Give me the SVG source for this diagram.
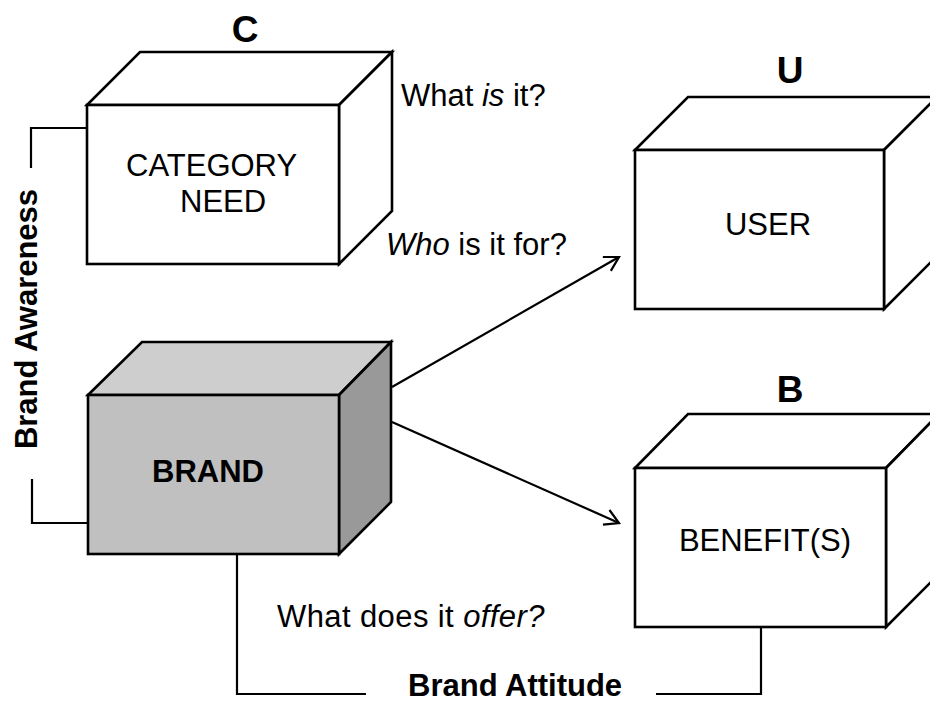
<svg xmlns="http://www.w3.org/2000/svg" width="930" height="704" viewBox="0 0 930 704">
<defs>
<style>
.edge{stroke:#000;stroke-width:2.6;stroke-linejoin:miter}
.w{fill:#fff}
.t{font-family:"Liberation Sans",Arial,sans-serif;font-size:31px;fill:#000}
.b{font-weight:bold}
.i{font-style:italic}
.ln{fill:none;stroke:#000;stroke-width:2.2}
</style>
<marker id="ah" viewBox="0 0 20 20" refX="18" refY="10" markerWidth="20" markerHeight="20" markerUnits="userSpaceOnUse" orient="auto">
<path d="M4,2 L18,10 L4,18" fill="none" stroke="#000" stroke-width="2.2"/>
</marker>
</defs>
<rect width="930" height="704" fill="#fff"/>

<g id="connectors">
<path class="ln" d="M87,128 H31 V168"/>
<path class="ln" d="M32,479 V523 H88"/>
<path class="ln" d="M237,554 V694 H366"/>
<path class="ln" d="M656,694 H761 V627"/>
<line class="ln" x1="392" y1="387" x2="619" y2="257" marker-end="url(#ah)"/>
<line class="ln" x1="392" y1="422" x2="619" y2="523" marker-end="url(#ah)"/>
</g>

<g id="category">
<polygon class="edge w" points="87,105 140,52 392,52 339,105"/>
<polygon class="edge w" points="339,105 392,52 392,211 339,264"/>
<rect class="edge w" x="87" y="105" width="252" height="159"/>
<text class="t b" x="245" y="42" text-anchor="middle" style="font-size:37px">C</text>
<text class="t" x="126" y="176">CATEGORY</text>
<text class="t" x="180" y="212">NEED</text>
</g>

<g id="brand">
<polygon class="edge" fill="#cecece" points="88,395 142,342 391,342 339,395"/>
<polygon class="edge" fill="#999999" points="339,395 391,342 391,502 339,554"/>
<rect class="edge" fill="#c0c0c0" x="88" y="395" width="251" height="159"/>
<text class="t b" x="208" y="482" text-anchor="middle">BRAND</text>
</g>

<g id="user">
<polygon class="edge w" points="635,150 688,97 937,97 884,150"/>
<polygon class="edge w" points="884,150 937,97 937,256 884,309"/>
<rect class="edge w" x="635" y="150" width="249" height="159"/>
<text class="t b" x="790" y="83" text-anchor="middle" style="font-size:37px">U</text>
<text class="t" x="768" y="235" text-anchor="middle">USER</text>
</g>

<g id="benefit">
<polygon class="edge w" points="635,468 688,414 939,414 886,468"/>
<polygon class="edge w" points="886,468 939,414 939,574 886,627"/>
<rect class="edge w" x="635" y="468" width="251" height="159"/>
<text class="t b" x="790" y="402" text-anchor="middle" style="font-size:37px">B</text>
<text class="t" x="765" y="551" text-anchor="middle">BENEFIT(S)</text>
</g>

<g id="labels">
<text class="t" x="401" y="106">What <tspan class="i">is</tspan> it?</text>
<text class="t" x="386" y="255"><tspan class="i">Who</tspan> is it for?</text>
<text class="t" x="277" y="627" letter-spacing="0.4">What does it <tspan class="i">offer?</tspan></text>
<text class="t b" transform="translate(37,319) rotate(-90)" text-anchor="middle">Brand Awareness</text>
<text class="t b" x="408" y="696">Brand Attitude</text>
</g>
</svg>
